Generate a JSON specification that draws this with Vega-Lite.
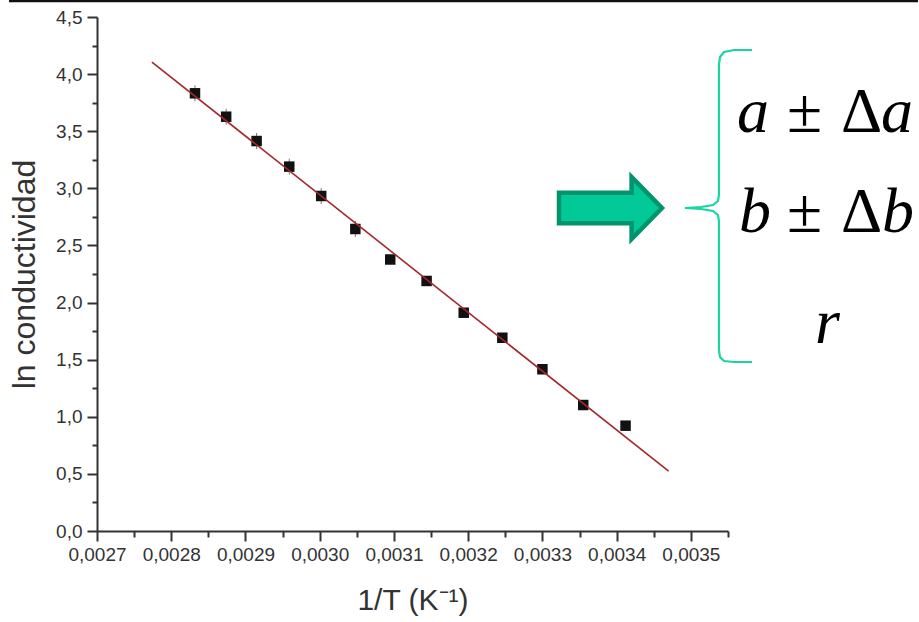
{
  "$schema": "https://vega.github.io/schema/vega-lite/v6.json",
  "width": 631,
  "height": 514,
  "autosize": {"type": "none"},
  "padding": {"left": 97, "top": 17, "right": 191, "bottom": 91},
  "background": "white",
  "config": {"view": {"stroke": null}},
  "datasets": {
    "pts": [
      {"x": 0.002832, "y": 3.832, "ylo": 3.762, "yhi": 3.902},
      {"x": 0.002874, "y": 3.627, "ylo": 3.557, "yhi": 3.697},
      {"x": 0.002915, "y": 3.414, "ylo": 3.344, "yhi": 3.484},
      {"x": 0.002959, "y": 3.190, "ylo": 3.120, "yhi": 3.260},
      {"x": 0.003002, "y": 2.933, "ylo": 2.863, "yhi": 3.003},
      {"x": 0.003048, "y": 2.644, "ylo": 2.574, "yhi": 2.714},
      {"x": 0.003095, "y": 2.377, "ylo": 2.337, "yhi": 2.417},
      {"x": 0.003144, "y": 2.189, "ylo": 2.149, "yhi": 2.229},
      {"x": 0.003194, "y": 1.911, "ylo": 1.871, "yhi": 1.951},
      {"x": 0.003246, "y": 1.692, "ylo": 1.652, "yhi": 1.732},
      {"x": 0.003300, "y": 1.416, "ylo": 1.376, "yhi": 1.456},
      {"x": 0.003355, "y": 1.103, "ylo": 1.063, "yhi": 1.143},
      {"x": 0.003412, "y": 0.922, "ylo": 0.882, "yhi": 0.962}
    ],
    "fit": [
      {"x": 0.002774, "y": 4.106},
      {"x": 0.003470, "y": 0.525}
    ],
    "brace": [
      {"o": 1, "x": 0.0035823, "y": 4.2112},
      {"o": 2, "x": 0.0035580, "y": 4.2112},
      {"o": 3, "x": 0.0035446, "y": 4.1937},
      {"o": 4, "x": 0.0035392, "y": 4.1499},
      {"o": 5, "x": 0.0035378, "y": 4.0799},
      {"o": 6, "x": 0.0035378, "y": 2.9417},
      {"o": 7, "x": 0.0035365, "y": 2.8891},
      {"o": 8, "x": 0.0035297, "y": 2.8541},
      {"o": 9, "x": 0.0035136, "y": 2.8366},
      {"o": 10, "x": 0.0034920, "y": 2.8279},
      {"o": 11, "x": 0.0035136, "y": 2.8191},
      {"o": 12, "x": 0.0035297, "y": 2.8016},
      {"o": 13, "x": 0.0035365, "y": 2.7666},
      {"o": 14, "x": 0.0035378, "y": 2.7141},
      {"o": 15, "x": 0.0035378, "y": 1.5847},
      {"o": 16, "x": 0.0035392, "y": 1.5234},
      {"o": 17, "x": 0.0035446, "y": 1.4884},
      {"o": 18, "x": 0.0035580, "y": 1.4796},
      {"o": 19, "x": 0.0035823, "y": 1.4796}
    ],
    "italic": [
      {"t": "a", "x": 0.0035621, "y": 3.4933},
      {"t": "a", "x": 0.0037560, "y": 3.4933},
      {"t": "b", "x": 0.0035648, "y": 2.6178},
      {"t": "b", "x": 0.0037574, "y": 2.6178},
      {"t": "r", "x": 0.0036671, "y": 1.6460}
    ],
    "upright": [
      {"t": "±", "x": 0.0036294, "y": 3.4933},
      {"t": "Δ", "x": 0.0037022, "y": 3.4933},
      {"t": "±", "x": 0.0036294, "y": 2.6178},
      {"t": "Δ", "x": 0.0037022, "y": 2.6178}
    ]
  },
  "resolve": {"axis": {"x": "independent", "y": "independent"}},
  "layer": [
    {
      "data": {"name": "pts"},
      "mark": {"type": "rule", "color": "#777", "strokeWidth": 1},
      "encoding": {
        "x": {
          "field": "x", "type": "quantitative",
          "scale": {"domain": [0.0027, 0.00355], "nice": false, "zero": false},
          "axis": {
            "orient": "bottom",
            "values": [0.0027, 0.0028, 0.0029, 0.003, 0.0031, 0.0032, 0.0033, 0.0034, 0.0035],
            "labelExpr": "replace(format(datum.value, '.4f'), '.', ',')",
            "labelOverlap": false, "labelBound": false, "labelFlush": false,
            "grid": false, "tickSize": 10, "tickWidth": 2, "tickColor": "#333",
            "domainColor": "#333", "domainWidth": 2,
            "labelFont": "Liberation Sans", "labelFontSize": 19, "labelColor": "#333", "labelPadding": 4,
            "title": "1/T (K⁻¹)", "titleFont": "Liberation Sans", "titleFontSize": 30,
            "titleFontWeight": "normal", "titleColor": "#333", "titlePadding": 21
          }
        },
        "y": {
          "field": "ylo", "type": "quantitative",
          "scale": {"domain": [0, 4.5], "nice": false, "zero": false},
          "axis": {
            "orient": "left",
            "values": [0, 0.5, 1, 1.5, 2, 2.5, 3, 3.5, 4, 4.5],
            "labelExpr": "replace(format(datum.value, '.1f'), '.', ',')",
            "labelOverlap": false, "labelBound": false, "labelFlush": false,
            "grid": false, "tickSize": 10, "tickWidth": 2, "tickColor": "#333",
            "domainColor": "#333", "domainWidth": 2,
            "labelFont": "Liberation Sans", "labelFontSize": 19, "labelColor": "#333", "labelPadding": 5,
            "title": "ln conductividad", "titleFont": "Liberation Sans", "titleFontSize": 32,
            "titleFontWeight": "normal", "titleColor": "#333", "titlePadding": 14
          }
        },
        "y2": {"field": "yhi"}
      }
    },
    {
      "data": {"name": "pts"},
      "mark": {"type": "point", "shape": "square", "filled": true, "color": "#111", "size": 110, "opacity": 1},
      "encoding": {
        "x": {
          "field": "x", "type": "quantitative",
          "axis": {
            "orient": "bottom",
            "values": [0.00275, 0.00285, 0.00295, 0.00305, 0.00315, 0.00325, 0.00335, 0.00345, 0.00355],
            "labels": false, "domain": false, "grid": false, "title": null,
            "tickSize": 6, "tickWidth": 2, "tickColor": "#333"
          }
        },
        "y": {
          "field": "y", "type": "quantitative",
          "axis": {
            "orient": "left",
            "values": [0.25, 0.75, 1.25, 1.75, 2.25, 2.75, 3.25, 3.75, 4.25],
            "labels": false, "domain": false, "grid": false, "title": null,
            "tickSize": 5, "tickWidth": 2, "tickColor": "#333"
          }
        }
      }
    },
    {
      "data": {"name": "fit"},
      "mark": {"type": "line", "color": "#a3282c", "strokeWidth": 1.6},
      "encoding": {
        "x": {"field": "x", "type": "quantitative", "axis": null},
        "y": {"field": "y", "type": "quantitative", "axis": null}
      }
    },
    {
      "data": {"values": [{}]},
      "mark": {"type": "rule", "color": "#111", "strokeWidth": 2.5},
      "encoding": {
        "x": {"datum": 0.0025815, "type": "quantitative", "axis": null},
        "x2": {"datum": 0.0038059},
        "y": {"datum": 4.6402, "type": "quantitative", "axis": null}
      }
    },
    {
      "data": {"values": [{}]},
      "mark": {
        "type": "point",
        "shape": "M-1,-0.295L0.41,-0.295L0.41,-0.6L1,0L0.41,0.6L0.41,0.295L-1,0.295Z",
        "size": 10600, "filled": true, "fill": "#00c896", "stroke": "#00946c", "strokeWidth": 4.5, "opacity": 1, "strokeJoin": "miter"
      },
      "encoding": {
        "x": {"datum": 0.0033917, "type": "quantitative", "axis": null},
        "y": {"datum": 2.8279, "type": "quantitative", "axis": null}
      }
    },
    {
      "data": {"name": "brace"},
      "mark": {"type": "line", "color": "#1bd4a4", "strokeWidth": 2.2},
      "encoding": {
        "x": {"field": "x", "type": "quantitative", "axis": null},
        "y": {"field": "y", "type": "quantitative", "axis": null},
        "order": {"field": "o"}
      }
    },
    {
      "data": {"name": "italic"},
      "mark": {"type": "text", "font": "Liberation Serif", "fontStyle": "italic", "fontSize": 64, "align": "left", "baseline": "alphabetic", "color": "#000"},
      "encoding": {
        "x": {"field": "x", "type": "quantitative", "axis": null},
        "y": {"field": "y", "type": "quantitative", "axis": null},
        "text": {"field": "t"}
      }
    },
    {
      "data": {"name": "upright"},
      "mark": {"type": "text", "font": "Liberation Serif", "fontSize": 64, "align": "left", "baseline": "alphabetic", "color": "#000"},
      "encoding": {
        "x": {"field": "x", "type": "quantitative", "axis": null},
        "y": {"field": "y", "type": "quantitative", "axis": null},
        "text": {"field": "t"}
      }
    }
  ]
}
